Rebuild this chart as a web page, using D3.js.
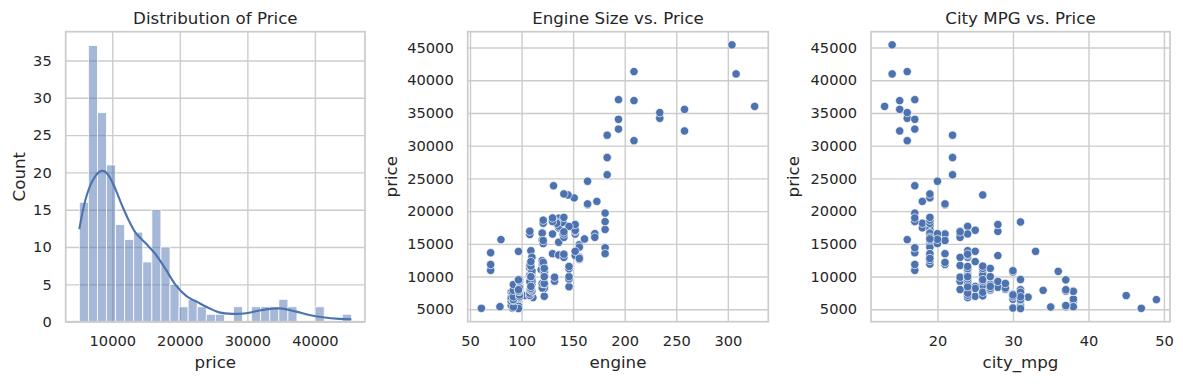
<!DOCTYPE html>
<html>
<head>
<meta charset="utf-8">
<script src="https://cdn.jsdelivr.net/npm/d3@7/dist/d3.min.js"></script>
<style>
  body { margin: 0; background: #fff; }
  text { font-family: "DejaVu Sans", sans-serif; fill: #262626; }
</style>
</head>
<body>
<svg id="chart" width="1183" height="384"></svg>
<script>
// histogram of price: 30 equal bins between min and max price
var binMin = 5118, binMax = 45400;
var binCounts = [16, 37, 28, 21, 13, 11, 12, 8, 15, 10, 5, 2, 3, 2, 1, 1, 0, 2, 0, 2, 2, 2, 3, 2, 0, 0, 2, 0, 0, 1];

// kde curve (scaled to counts)
var kdePrice = [5118, 6050, 7030, 8030, 8770, 9510, 10500, 11480, 12480, 13470, 14950, 16440, 17920, 19400, 20900, 22860, 24350, 25830, 27800, 29800, 31770, 33740, 35220, 37210, 39180, 41160, 43640, 45400];
var kdeCount = [12.4, 16.4, 18.8, 20.05, 20.2, 19.5, 17.7, 15.5, 13.5, 11.9, 10.5, 9.0, 7.0, 4.9, 3.5, 2.5, 1.8, 1.25, 1.05, 1.13, 1.5, 1.75, 1.75, 1.35, 0.9, 0.6, 0.38, 0.32];

// cars: engine size, city mpg, price
var engine = [130,130,152,109,136,136,136,136,131,108,108,164,164,164,209,209,209,61,90,90,90,90,98,90,90,90,98,122,156,92,92,79,92,92,92,92,110,110,110,110,110,110,111,119,258,258,326,91,91,91,91,91,70,70,70,80,122,122,122,122,122,122,140,134,183,183,183,183,234,234,308,304,140,92,92,92,98,110,122,156,156,156,122,122,110,110,97,103,97,97,97,97,97,97,97,120,120,97,181,181,181,181,181,181,120,152,120,152,120,152,120,152,120,152,134,90,98,90,90,98,122,156,151,194,194,194,132,132,121,121,121,121,121,121,97,108,108,108,108,108,108,108,108,108,108,108,92,92,92,92,92,92,98,98,110,110,98,98,98,98,98,98,98,146,146,146,146,146,146,122,110,122,110,122,171,171,161,161,97,109,97,109,109,97,109,109,109,136,97,109,141,141,141,141,130,130,141,141,173,145,141];
var cityMpg = [21,21,19,24,18,19,19,19,17,23,23,21,21,20,16,16,15,47,38,38,37,31,24,31,31,31,24,24,19,49,32,38,30,30,30,30,24,24,24,24,24,24,24,24,15,15,13,30,31,31,31,31,17,17,17,16,26,26,26,26,36,26,19,31,22,22,22,22,16,16,14,14,19,37,31,31,24,23,25,19,19,19,25,25,23,23,31,45,31,31,31,31,31,31,31,27,27,31,19,17,19,19,17,17,19,28,19,25,19,28,19,25,19,28,18,37,24,31,31,31,24,19,19,17,17,17,23,23,21,21,20,21,19,19,31,26,26,24,24,24,24,24,24,24,23,23,35,31,31,31,27,27,30,30,34,38,38,28,28,29,29,26,26,24,24,24,24,24,24,29,30,27,30,27,20,19,20,19,37,27,37,27,27,37,27,26,24,24,33,25,23,24,23,24,17,17,23,19,18,26,19];
var price = [13495,16500,16500,13950,17450,15250,17710,18920,23875,16430,16925,20970,21105,24565,30760,41315,36880,5151,6295,6575,5572,6377,7957,6229,6692,7609,8558,8921,12964,6479,6855,5399,6529,7129,7295,7295,7895,9095,8845,10295,12945,10345,6785,11048,32250,35550,36000,5195,6095,6795,6695,7395,10945,11845,13645,15645,8845,8495,10595,10245,10795,11245,18280,18344,25552,28248,28176,31600,34184,35056,40960,45400,16503,5389,6189,6669,7689,9959,8499,12629,14869,14489,6989,8189,9279,9279,5499,7099,6649,6849,7349,7299,7799,7499,7999,8249,8949,9549,13499,14399,13499,17199,19699,18399,11900,13200,12440,13860,15580,16900,16695,17075,16630,17950,18150,5572,7957,6229,6692,7609,8921,12764,22018,32528,34028,37028,9295,9895,11850,12170,15040,15510,18150,18620,5118,7053,7603,7126,7775,9960,9233,11259,7463,10198,8013,11694,5348,6338,6488,6918,7898,8778,6938,7198,7898,7788,7738,8358,9258,8058,8238,9298,9538,8449,9639,9989,11199,11549,17669,8948,10698,9988,10898,11248,16558,15998,15690,15750,7775,7975,7995,8195,8495,9495,9995,11595,9980,13295,13845,12290,12940,13415,15985,16515,18420,18950,16845,19045,21485,22470,22625];

var countTicks = [0, 5, 10, 15, 20, 25, 30, 35];
var priceTicks = [10000, 20000, 30000, 40000];
var engineTicks = [50, 100, 150, 200, 250, 300];
var mpgTicks = [20, 30, 40, 50];
var priceAxisTicks = [5000, 10000, 15000, 20000, 25000, 30000, 35000, 40000, 45000];

var blue = "#4c72b0";
var plotTop = 31.7, plotBottom = 321.7;
var svg = d3.select("#chart");

// one axes box with grid, tick labels, title and axis labels
function makePanel(left, right, xDomain, yDomain, xt, yt, title, xlab, ylab, ylabX) {
    var x = d3.scaleLinear().domain(xDomain).range([left, right]);
    var y = d3.scaleLinear().domain(yDomain).range([plotBottom, plotTop]);
    var g = svg.append("g");

    var gx = g.append("g")
        .attr("transform", "translate(0," + plotBottom + ")")
        .call(d3.axisBottom(x).tickValues(xt).tickSize(-(plotBottom - plotTop)).tickPadding(13.5).tickFormat(d3.format("d")));
    var gy = g.append("g")
        .attr("transform", "translate(" + left + ",0)")
        .call(d3.axisLeft(y).tickValues(yt).tickSize(-(right - left)).tickPadding(14).tickFormat(d3.format("d")));
    [gx, gy].forEach(function(a) {
        a.select(".domain").remove();
        a.selectAll("line").attr("stroke", "#cccccc").attr("stroke-width", 1.39);
        a.selectAll("text").style("font-size", "14.6px").attr("fill", "#262626")
            .style("font-family", "'DejaVu Sans', sans-serif");
    });

    g.append("text")
        .attr("x", (left + right) / 2).attr("y", 23.5)
        .attr("text-anchor", "middle").style("font-size", "16.67px")
        .text(title);
    g.append("text")
        .attr("x", (left + right) / 2).attr("y", 368)
        .attr("text-anchor", "middle").style("font-size", "16.67px")
        .text(xlab);
    g.append("text")
        .attr("transform", "translate(" + ylabX + "," + ((plotTop + plotBottom) / 2) + ") rotate(-90)")
        .attr("text-anchor", "middle").style("font-size", "16.67px")
        .text(ylab);

    var marks = g.append("g");
    g.append("rect")
        .attr("x", left).attr("y", plotTop)
        .attr("width", right - left).attr("height", plotBottom - plotTop)
        .attr("fill", "none").attr("stroke", "#cccccc").attr("stroke-width", 1.74);
    return {x: x, y: y, g: marks};
}

// panel 1: histogram + kde
var p1 = makePanel(65.7, 365, [3104, 47414], [0, 38.85], priceTicks, countTicks,
    "Distribution of Price", "price", "Count", 25);
var binW = (binMax - binMin) / binCounts.length;
p1.g.selectAll("rect")
    .data(binCounts)
    .enter()
    .append("rect")
    .attr("x", (d, i) => p1.x(binMin + i * binW))
    .attr("width", (d, i) => p1.x(binMin + (i + 1) * binW) - p1.x(binMin + i * binW))
    .attr("y", (d) => p1.y(d))
    .attr("height", (d) => p1.y(0) - p1.y(d))
    .attr("fill", blue).attr("fill-opacity", 0.5)
    .attr("stroke", "#fff").attr("stroke-width", 0.8);

var kdeLine = d3.line()
    .x((d, i) => p1.x(kdePrice[i]))
    .y((d) => p1.y(d))
    .curve(d3.curveCatmullRom);
p1.g.append("path")
    .attr("d", kdeLine(kdeCount))
    .attr("fill", "none").attr("stroke", blue).attr("stroke-width", 2.1);

// panel 2: engine vs price
var p2 = makePanel(467.7, 768.3, [47.75, 339.25], [3104, 47414], engineTicks, priceAxisTicks,
    "Engine Size vs. Price", "engine", "price", 397);
p2.g.selectAll("circle")
    .data(price)
    .enter()
    .append("circle")
    .attr("cx", (d, i) => p2.x(engine[i]))
    .attr("cy", (d) => p2.y(d))
    .attr("r", 4.17)
    .attr("fill", blue).attr("stroke", "#fff").attr("stroke-width", 0.67);

// panel 3: city mpg vs price
var p3 = makePanel(871, 1170, [11.2, 50.8], [3104, 47414], mpgTicks, priceAxisTicks,
    "City MPG vs. Price", "city_mpg", "price", 799);
p3.g.selectAll("circle")
    .data(price)
    .enter()
    .append("circle")
    .attr("cx", (d, i) => p3.x(cityMpg[i]))
    .attr("cy", (d) => p3.y(d))
    .attr("r", 4.17)
    .attr("fill", blue).attr("stroke", "#fff").attr("stroke-width", 0.67);
</script>
</body>
</html>
